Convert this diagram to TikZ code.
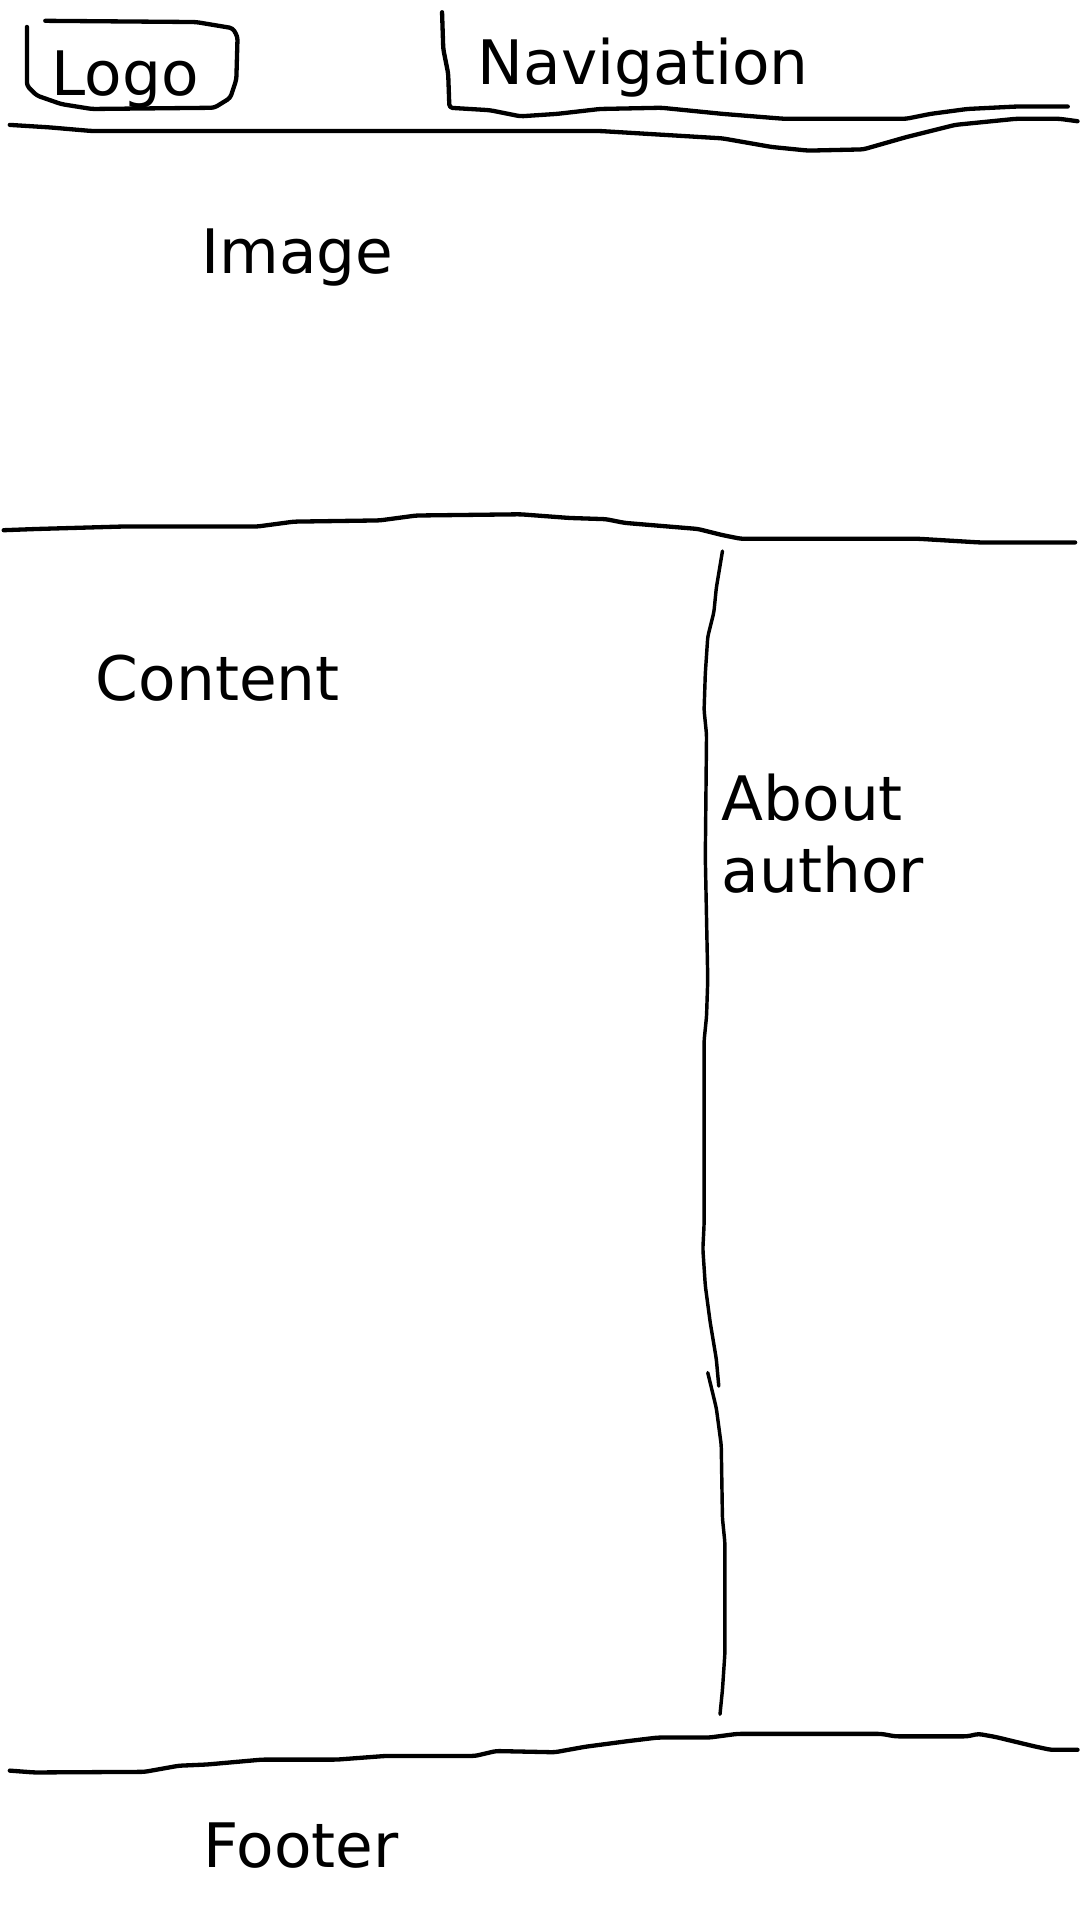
\documentclass[tikz,border=0pt]{standalone}
\usepackage{fontspec}
\setmainfont{DejaVu Sans}
\usepackage{tikz}
\usetikzlibrary{backgrounds}
\usepackage{xcolor}

\begin{document}
\begin{tikzpicture}[x=0.02cm,y=-0.02cm,
    sketch/.style={draw=black,line width=2pt,line cap=round,line join=round,rounded corners=1.5pt},
    thinsketch/.style={sketch,line width=1.6pt},
    label/.style={shape=rectangle,inner sep=0pt,anchor=base west,
      font=\fontsize{28.5}{33.5}\selectfont,align=left}]
    %\draw[help lines] (0,0) grid (882,1568); % Only for Development
    \useasboundingbox (0,0) rectangle (882,1568);

    % logo box
    \draw[sketch]
      (22,22) -- (22,70) -- (30,78) -- (50,85) -- (75,89) -- (175,88) --
      (188,80) -- (193,65) -- (194,30) -- (190,23) -- (160,18) -- (37,17);
    \node[label] (logo) at (42,78) {Logo};

    % navigation
    \draw[sketch]
      (361,10) -- (362,40) -- (366,60) -- (367,88) -- (400,90) -- (425,95) --
      (455,93) -- (490,89) -- (540,88) -- (590,93) -- (640,97) -- (740,97) --
      (760,93) -- (790,89) -- (830,87) -- (872,87);
    \node[label] (nav) at (390,69) {Navigation};

    % header bottom
    \draw[sketch]
      (8,102) -- (40,104) -- (75,107) -- (490,107) -- (540,110) -- (590,113) --
      (630,120) -- (660,123) -- (705,122) -- (740,112) -- (780,102) --
      (830,97) -- (865,97) -- (880,99);
    \node[label] (image) at (164,223) {Image};

    % image bottom
    \draw[sketch]
      (3,433) -- (30,432) -- (100,430) -- (210,430) -- (240,426) -- (310,425) --
      (340,421) -- (425,420) -- (465,423) -- (495,424) -- (510,427) --
      (570,432) -- (590,437) -- (605,440) -- (750,440) -- (800,443) -- (878,443);
    \node[label] (content) at (78,572) {Content};

    % sidebar divider
    \draw[thinsketch]
      (590,450) -- (585,480) -- (583,500) -- (578,520) -- (576,550) --
      (575,580) -- (577,600) -- (576,700) -- (578,800) -- (577,830) --
      (575,850) -- (575,1000) -- (574,1020) -- (576,1050) -- (580,1080) --
      (585,1110) -- (587,1132);
    \draw[thinsketch]
      (578,1121) -- (585,1150) -- (589,1180) -- (590,1240) -- (592,1260) --
      (592,1350) -- (590,1380) -- (588,1400);
    \node[label] (about) at (589,729) {About\\author};

    % footer top
    \draw[sketch]
      (8,1446) -- (28,1447.5) -- (118,1447) -- (146,1442) -- (169,1441) --
      (214,1437) -- (275,1437) -- (315,1434) -- (388,1434) -- (405,1430) --
      (453,1431) -- (478,1426.5) -- (512,1422) -- (537,1419) -- (579,1419) --
      (602,1416) -- (720,1416) -- (731,1418) -- (790,1418) -- (799,1416) --
      (813,1418.5) -- (844,1426) -- (858,1429) -- (880,1429);
    \node[label] (footer) at (166,1525) {Footer};

  \end{tikzpicture}
\end{document}
